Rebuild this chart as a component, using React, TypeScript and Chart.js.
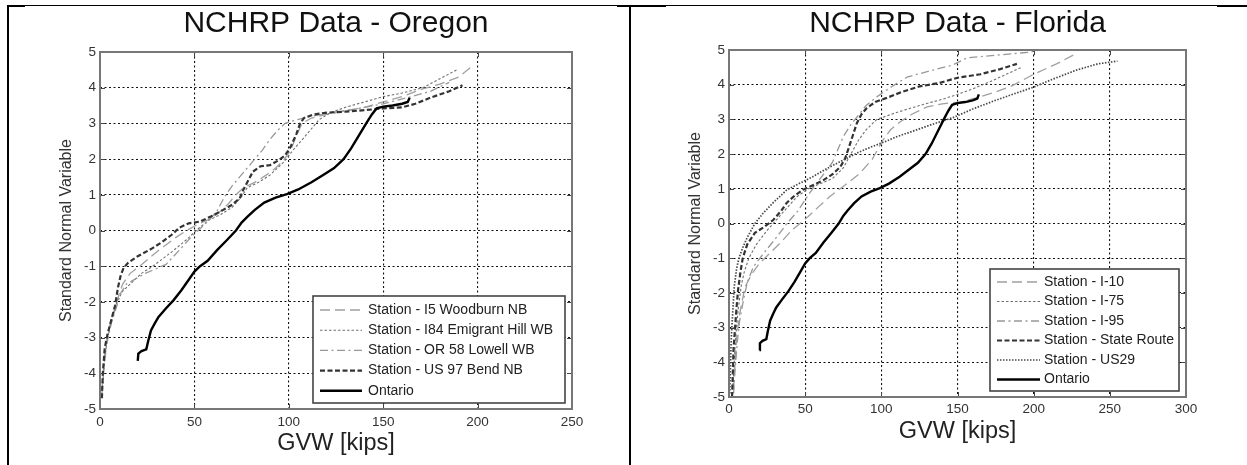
import React, { useEffect, useRef } from "react";
import { Chart, registerables } from "chart.js";

Chart.register(...registerables);

type Pt = [number, number];

const FONT = "'Liberation Sans', Arial, Helvetica, sans-serif";

// ---------- tick labels ----------
const Y_TICKS = [-5, -4, -3, -2, -1, 0, 1, 2, 3, 4, 5];
const OREGON_X_TICKS = [0, 50, 100, 150, 200, 250];
const FLORIDA_X_TICKS = [0, 50, 100, 150, 200, 250, 300];

// ---------- data: [GVW kips, standard normal variable] ----------
const ONTARIO: Pt[] = [
  [20, -3.65], [20.3, -3.45], [22, -3.38], [24.5, -3.33], [25.5, -3.1], [27, -2.8], [29, -2.6],
  [31, -2.42], [35, -2.18], [39, -1.95], [43, -1.68], [47, -1.38], [50, -1.15], [53, -1.0],
  [57, -0.85], [62, -0.55], [67, -0.28], [72, 0.0], [75, 0.22], [78, 0.38], [82, 0.58],
  [87, 0.78], [93, 0.92], [99, 1.02], [105, 1.15], [112, 1.35], [118, 1.55], [124, 1.75],
  [129, 2.0], [133, 2.3], [137, 2.65], [141, 3.0], [144, 3.25], [146.5, 3.42], [150, 3.47],
  [155, 3.5], [160, 3.55], [163, 3.6], [164, 3.72],
];

const OR_I5_WOODBURN: Pt[] = [
  [1, -4.5], [2, -3.8], [3, -3.2], [5, -2.7], [8, -2.2], [10, -1.8], [12, -1.5], [16, -1.2],
  [21, -1.0], [30, -0.6], [40, -0.2], [46, 0.0], [52, 0.18], [58, 0.32], [63, 0.5], [68, 0.75],
  [72, 1.0], [76, 1.2], [82, 1.35], [88, 1.55], [93, 1.75], [97, 1.95], [101, 2.25], [104, 2.65],
  [107, 3.0], [112, 3.15], [120, 3.25], [130, 3.35], [140, 3.45], [150, 3.6], [160, 3.75],
  [170, 3.95], [180, 4.1], [190, 4.3], [197, 4.6],
];

const OR_I84_EMIGRANT_HILL: Pt[] = [
  [1.5, -4.3], [2.5, -3.6], [4, -3.0], [6.5, -2.4], [9, -2.0], [12, -1.7], [16, -1.5],
  [22, -1.2], [28, -1.0], [38, -0.6], [46, -0.25], [52, 0.05], [58, 0.3], [64, 0.45],
  [70, 0.65], [75, 0.95], [78, 1.2], [84, 1.35], [90, 1.55], [97, 1.9], [103, 2.3],
  [108, 2.6], [112, 2.85], [116, 3.1], [122, 3.3], [130, 3.45], [140, 3.6], [150, 3.75],
  [160, 3.85], [171, 4.0], [180, 4.25], [189, 4.5],
];

const OR_OR58_LOWELL: Pt[] = [
  [1, -4.6], [2, -3.9], [3.5, -3.2], [6, -2.6], [9, -2.1], [11, -1.75], [14, -1.5], [24, -1.2],
  [35, -0.95], [42, -0.55], [48, -0.2], [53, 0.05], [58, 0.3], [62, 0.55], [66, 0.95],
  [70, 1.25], [74, 1.5], [78, 1.75], [82, 2.0], [86, 2.25], [90, 2.55], [94, 2.8], [98, 3.0],
  [104, 3.1], [112, 3.2], [122, 3.3], [135, 3.4], [150, 3.55], [165, 3.75], [175, 3.9],
  [185, 4.15],
];

const OR_US97_BEND: Pt[] = [
  [1, -4.7], [1.5, -4.0], [2.5, -3.3], [4, -2.9], [6, -2.5], [8, -2.1], [9.5, -1.6], [11, -1.25],
  [12.5, -1.05], [15, -0.9], [20, -0.72], [27, -0.52], [33, -0.32], [38, -0.12], [42, 0.08],
  [47, 0.2], [53, 0.25], [59, 0.4], [65, 0.57], [70, 0.72], [74, 0.9], [76, 1.15], [78, 1.35],
  [81, 1.65], [85, 1.8], [90, 1.83], [94, 1.95], [98, 2.1], [101, 2.35], [104, 2.7], [106, 3.0],
  [108, 3.15], [113, 3.25], [120, 3.3], [130, 3.33], [140, 3.37], [150, 3.42], [160, 3.45],
  [167, 3.55], [175, 3.72], [185, 3.9], [192, 4.07],
];

const FL_I10: Pt[] = [
  [3, -4.8], [4, -4.0], [5, -3.3], [7, -2.6], [10.5, -1.83], [15, -1.45], [20, -1.15],
  [27, -0.85], [35, -0.5], [41, -0.2], [46.6, 0.0], [52, 0.2], [58, 0.45], [66, 0.77],
  [76, 1.1], [86, 1.45], [94, 1.85], [101, 2.4], [106, 2.7], [112, 2.92], [120, 3.15],
  [130, 3.36], [140, 3.45], [151.7, 3.5], [162, 3.62], [173, 3.76], [185, 3.95], [200, 4.3],
  [215, 4.6], [228, 4.9],
];

const FL_I75: Pt[] = [
  [2.5, -4.8], [3.5, -3.9], [4.5, -3.2], [6, -2.5], [8, -1.8], [10, -1.4], [13, -1.0],
  [18, -0.6], [25, -0.2], [30, 0.05], [36, 0.35], [44.6, 0.77], [52, 1.0], [60, 1.15],
  [68, 1.3], [75, 1.6], [80, 2.0], [85, 2.4], [90, 2.7], [97, 3.0], [110, 3.2], [125, 3.4],
  [140, 3.58], [150, 3.72], [160, 3.88], [172, 4.1], [182, 4.3], [192, 4.5],
];

const FL_I95: Pt[] = [
  [3, -4.9], [4, -4.2], [5.5, -3.4], [7, -2.8], [9.5, -2.2], [12, -1.7], [16, -1.25],
  [22, -0.9], [31.5, -0.38], [38, 0.0], [45, 0.35], [53, 0.88], [60, 1.3], [68, 1.77],
  [75, 2.5], [80, 2.85], [84, 3.07], [90, 3.4], [97, 3.65], [107, 3.95], [117, 4.22],
  [132, 4.4], [147, 4.57], [156, 4.77], [175, 4.85], [198, 4.94], [215, 5.1],
];

const FL_STATE_ROUTE: Pt[] = [
  [2, -5.0], [2.5, -4.3], [3, -3.6], [4, -3.0], [5, -2.4], [6, -1.9], [7.5, -1.4], [9, -1.0],
  [12, -0.6], [17, -0.27], [23, -0.1], [29, 0.1], [34, 0.35], [38, 0.6], [43, 0.8],
  [48.5, 0.97], [55, 1.1], [62, 1.25], [68, 1.42], [73, 1.63], [76, 1.85], [78, 2.1],
  [81, 2.5], [84, 2.9], [87, 3.15], [90.5, 3.33], [96, 3.5], [103.5, 3.62], [114, 3.8],
  [125, 3.95], [138, 4.05], [150, 4.2], [165, 4.3], [178, 4.45], [189, 4.6],
];

const FL_US29: Pt[] = [
  [0.5, -4.9], [1, -4.0], [1.5, -3.3], [2.5, -2.5], [3.5, -1.8], [5, -1.3], [6.5, -1.0],
  [9, -0.7], [12, -0.4], [17, 0.0], [22.5, 0.3], [29, 0.6], [38, 0.97], [46, 1.15], [55, 1.35],
  [65, 1.6], [75, 1.83], [85, 2.05], [93, 2.2], [102, 2.35], [110, 2.5], [120, 2.65],
  [133, 2.85], [147, 3.05], [160, 3.3], [175, 3.55], [190, 3.78], [200, 3.93], [212, 4.15],
  [228, 4.42], [242, 4.6], [255, 4.68],
];

// ---------- line styles ----------
type LineStyle = { color: string; width: number; dash: number[] };
const STYLE: Record<string, LineStyle> = {
  longDash: { color: "#a0a0a0", width: 1.3, dash: [10, 5] },
  fineDash: { color: "#707070", width: 1.1, dash: [2.5, 2] },
  dashDot: { color: "#989898", width: 1.3, dash: [8, 3.5, 2, 3.5] },
  darkDash: { color: "#333333", width: 2.2, dash: [5, 2.5] },
  dotted: { color: "#484848", width: 1.7, dash: [1.5, 1.5] },
  solid: { color: "#000000", width: 2.4, dash: [] },
};

type Series = { label: string; points: Pt[]; style: LineStyle };

type Panel = {
  left: number;
  width: number;
  title: string;
  xMax: number;
  xTicks: number[];
  yAxisWidth: number;
  padRight: number;
  titleGap: number;
  xAxisHeight: number;
  xTitlePad: number;
  xTickPad: number;
  yTitlePad: number;
  legend: {
    right: number;
    bottom: number;
    width: number;
    height: number;
    firstRow: number;
    rowGap: number;
    sampleX: number;
    sampleLen: number;
    textX: number;
  };
  series: Series[];
};

const PANELS: Panel[] = [
  {
    left: 10,
    width: 610,
    title: "NCHRP Data - Oregon",
    xMax: 250,
    xTicks: OREGON_X_TICKS,
    yAxisWidth: 90,
    padRight: 48,
    titleGap: 10,
    xAxisHeight: 56,
    xTitlePad: 7.4,
    xTickPad: 5,
    yTitlePad: 47,
    legend: { right: 7, bottom: 6, width: 252, height: 107, firstRow: 14, rowGap: 20.2, sampleX: 7, sampleLen: 42, textX: 55 },
    series: [
      { label: "Station - I5 Woodburn NB", points: OR_I5_WOODBURN, style: STYLE.longDash },
      { label: "Station - I84 Emigrant Hill WB", points: OR_I84_EMIGRANT_HILL, style: STYLE.fineDash },
      { label: "Station - OR 58 Lowell WB", points: OR_OR58_LOWELL, style: STYLE.dashDot },
      { label: "Station - US 97 Bend NB", points: OR_US97_BEND, style: STYLE.darkDash },
      { label: "Ontario", points: ONTARIO, style: STYLE.solid },
    ],
  },
  {
    left: 640,
    width: 607,
    title: "NCHRP Data - Florida",
    xMax: 300,
    xTicks: FLORIDA_X_TICKS,
    yAxisWidth: 89,
    padRight: 61,
    titleGap: 8,
    xAxisHeight: 68,
    xTitlePad: 18.9,
    xTickPad: 4,
    yTitlePad: 46.4,
    legend: { right: 7, bottom: 6, width: 189, height: 122, firstRow: 13, rowGap: 19.5, sampleX: 7, sampleLen: 43, textX: 54 },
    series: [
      { label: "Station - I-10", points: FL_I10, style: STYLE.longDash },
      { label: "Station - I-75", points: FL_I75, style: STYLE.fineDash },
      { label: "Station - I-95", points: FL_I95, style: STYLE.dashDot },
      { label: "Station - State Route", points: FL_STATE_ROUTE, style: STYLE.darkDash },
      { label: "Station - US29", points: FL_US29, style: STYLE.dotted },
      { label: "Ontario", points: ONTARIO, style: STYLE.solid },
    ],
  },
];

const matlabPlugin = {
  id: "matlab",
  afterDatasetsDraw(chart: any) {
    const { ctx, chartArea: a, scales } = chart;
    ctx.save();
    ctx.setLineDash([]);
    ctx.strokeStyle = "#444";
    ctx.lineWidth = 1;
    ctx.beginPath();
    scales.x.ticks.forEach((t: any) => {
      const x = Math.round(scales.x.getPixelForValue(t.value)) + 0.5;
      ctx.moveTo(x, a.bottom);
      ctx.lineTo(x, a.bottom - 5);
      ctx.moveTo(x, a.top);
      ctx.lineTo(x, a.top + 5);
    });
    scales.y.ticks.forEach((t: any) => {
      const y = Math.round(scales.y.getPixelForValue(t.value)) + 0.5;
      ctx.moveTo(a.left, y);
      ctx.lineTo(a.left + 5, y);
      ctx.moveTo(a.right, y);
      ctx.lineTo(a.right - 5, y);
    });
    ctx.stroke();
    ctx.strokeStyle = "#777777";
    ctx.lineWidth = 2;
    ctx.strokeRect(a.left, a.top, a.right - a.left, a.bottom - a.top);
    ctx.restore();
  },
  afterDraw(chart: any, _args: any, opts: any) {
    if (!opts || !opts.width) return;
    const { ctx, chartArea: a } = chart;
    const bx = a.right - opts.right - opts.width;
    const by = a.bottom - opts.bottom - opts.height;
    ctx.save();
    ctx.fillStyle = "#ffffff";
    ctx.fillRect(bx, by, opts.width, opts.height);
    ctx.strokeStyle = "#444";
    ctx.lineWidth = 1.6;
    ctx.setLineDash([]);
    ctx.strokeRect(bx, by, opts.width, opts.height);
    ctx.font = `14px ${FONT}`;
    ctx.textBaseline = "middle";
    ctx.textAlign = "left";
    chart.data.datasets.forEach((ds: any, i: number) => {
      const y = by + opts.firstRow + i * opts.rowGap;
      ctx.strokeStyle = ds.borderColor;
      ctx.lineWidth = ds.borderWidth;
      ctx.setLineDash(ds.borderDash || []);
      ctx.beginPath();
      ctx.moveTo(bx + opts.sampleX, y);
      ctx.lineTo(bx + opts.sampleX + opts.sampleLen, y);
      ctx.stroke();
      ctx.fillStyle = "#222";
      ctx.fillText(ds.label, bx + opts.textX, y);
    });
    ctx.restore();
  },
};

function buildConfig(p: Panel): any {
  const n = p.series.length;
  const tickFont = { family: FONT, size: 13.5 };
  return {
    type: "line",
    data: {
      datasets: p.series.map((s, i) => ({
        label: s.label,
        data: s.points.map(([x, y]) => ({ x, y })),
        borderColor: s.style.color,
        borderWidth: s.style.width,
        borderDash: s.style.dash,
        pointRadius: 0,
        fill: false,
        tension: 0,
        order: n - i,
      })),
    },
    options: {
      responsive: false,
      maintainAspectRatio: false,
      animation: false,
      events: [],
      layout: { padding: { left: 0, right: p.padRight, top: 0, bottom: 0 } },
      plugins: {
        legend: { display: false },
        tooltip: { enabled: false },
        title: {
          display: true,
          text: p.title,
          fullSize: false,
          color: "#111",
          font: { family: FONT, size: 30, weight: "normal", lineHeight: 1.2 },
          padding: { top: 6, bottom: p.titleGap },
        },
        matlab: p.legend,
      },
      scales: {
        x: {
          type: "linear",
          min: 0,
          max: p.xMax,
          afterBuildTicks: (s: any) => {
            s.ticks = p.xTicks.map((value) => ({ value }));
          },
          afterFit: (s: any) => {
            s.height = p.xAxisHeight;
          },
          grid: { color: "#111", lineWidth: 1.1, drawTicks: false },
          border: { display: false, dash: [2, 2.5] },
          ticks: { font: tickFont, color: "#333", padding: p.xTickPad, maxRotation: 0, autoSkip: false },
          title: {
            display: true,
            text: "GVW [kips]",
            color: "#222",
            font: { family: FONT, size: 23.5, lineHeight: 1.2 },
            padding: { top: 0, bottom: p.xTitlePad },
          },
        },
        y: {
          type: "linear",
          min: -5,
          max: 5,
          afterBuildTicks: (s: any) => {
            s.ticks = Y_TICKS.map((value) => ({ value }));
          },
          afterFit: (s: any) => {
            s.width = p.yAxisWidth;
          },
          grid: { color: "#111", lineWidth: 1.1, drawTicks: false },
          border: { display: false, dash: [2, 2.5] },
          ticks: { font: tickFont, color: "#333", padding: 4, autoSkip: false },
          title: {
            display: true,
            text: "Standard Normal Variable",
            color: "#333",
            font: { family: FONT, size: 16, lineHeight: 1.2 },
            padding: { top: p.yTitlePad, bottom: 0 },
          },
        },
      },
    },
    plugins: [matlabPlugin],
  };
}

function PanelChart({ panel }: { panel: Panel }) {
  const ref = useRef<HTMLCanvasElement | null>(null);
  useEffect(() => {
    if (!ref.current) return;
    const chart = new Chart(ref.current, buildConfig(panel));
    return () => chart.destroy();
  }, [panel]);
  return (
    <canvas
      ref={ref}
      width={panel.width}
      height={465}
      style={{ position: "absolute", left: panel.left, top: 0, width: panel.width, height: 465 }}
    />
  );
}

const line = (left: number, top: number, width: number, height: number) => (
  <div style={{ position: "absolute", left, top, width, height, background: "#000" }} />
);

export default function App() {
  return (
    <div
      style={{
        position: "fixed",
        left: 0,
        top: 0,
        width: 1247,
        height: 465,
        background: "#fff",
        overflow: "hidden",
      }}
    >
      {line(8, 5, 1239, 1)}
      {line(7, 5, 2, 460)}
      {line(629, 5, 2, 460)}
      {line(8, 5, 17, 2)}
      {line(617, 5, 49, 2)}
      {line(1217, 5, 30, 2)}
      {PANELS.map((p) => (
        <PanelChart key={p.title} panel={p} />
      ))}
    </div>
  );
}
